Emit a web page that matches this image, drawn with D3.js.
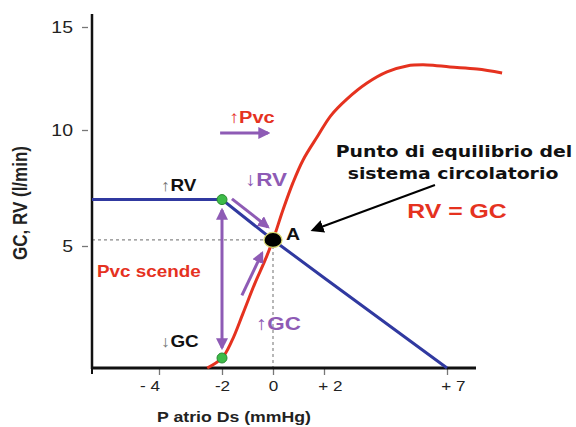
<!DOCTYPE html>
<html>
<head>
<meta charset="utf-8">
<script src="https://cdn.jsdelivr.net/npm/d3@7"></script>
<style>
  body { margin: 0; background: #fff; }
  svg { font-family: "Liberation Sans", Arial, sans-serif; }
</style>
</head>
<body>
<svg width="576" height="427"></svg>
<script>
// schematic axes: tick positions are not evenly spaced in the original
const xTicks = [-4, -2, 0, 2, 7];
const xTickLabels = ['- 4', '-2', '0', '+ 2', '+ 7'];
const yTicks = [5, 10, 15];

// ritorno venoso (RV)
const rvX = [-6.1, -2, 0, 2, 7];
const rvY = [7, 7, 5.26, 3.7, 0];

// gittata cardiaca (GC)
const gcX = [-2.47, -2, -1.61, -1.18, -0.71, -0.31, 0, 0.39, 0.78, 1.18, 1.76, 2.28, 2.93, 3.75, 4.56, 5.37, 6.19, 7.12, 8.24, 9.28];
const gcY = [0, 0.41, 1.12, 2.23, 3.47, 4.42, 5.26, 6.55, 7.72, 8.71, 9.75, 10.7, 11.5, 12.28, 12.82, 13.11, 13.16, 13.06, 12.96, 12.77];

const greenPts = [[-2, 7], [-2, 0.41]];
const eqPt = [0, 5.26];

// the original picture is stretched sideways
const SX = 1.18;

document.addEventListener('DOMContentLoaded', function() {
  const svg = d3.select('svg');

  const x = d3.scaleLinear()
    .domain([-6.1, -4, -2, 0, 2, 7, 8.2])
    .range([92, 159, 222, 273, 324, 447, 476]);
  const y = d3.scaleLinear()
    .domain([0, 5, 10, 15, 15.63])
    .range([368, 246, 130, 27, 14]);

  const purple = '#8e5bb5';
  const red = '#e5321f';
  const bold = '"DejaVu Sans", Verdana, sans-serif';

  const defs = svg.append('defs');
  const marker = (id, color, size) => {
    defs.append('marker')
      .attr('id', id)
      .attr('viewBox', '0 0 10 10')
      .attr('refX', 8).attr('refY', 5)
      .attr('markerWidth', size).attr('markerHeight', size)
      .attr('markerUnits', 'userSpaceOnUse')
      .attr('orient', 'auto-start-reverse')
      .append('path')
      .attr('d', 'M0,0 L10,5 L0,10 Z')
      .attr('fill', color);
  };
  marker('ap', purple, 12);
  marker('ak', '#000', 13);

  // dotted guides to the equilibrium point
  svg.append('line')
    .attr('x1', x(-6.1)).attr('x2', x(eqPt[0]))
    .attr('y1', y(eqPt[1])).attr('y2', y(eqPt[1]))
    .attr('stroke', '#888').attr('stroke-width', 1.2)
    .attr('stroke-dasharray', '3,3');
  svg.append('line')
    .attr('x1', x(eqPt[0])).attr('x2', x(eqPt[0]))
    .attr('y1', y(eqPt[1])).attr('y2', y(0))
    .attr('stroke', '#888').attr('stroke-width', 1.2)
    .attr('stroke-dasharray', '3,3');

  // axes
  const yAxis = d3.axisLeft(y).tickValues(yTicks).tickSize(6);
  const ya = svg.append('g')
    .attr('transform', 'translate(' + (x(-6.1) - 4) + ',0)')
    .call(yAxis);
  ya.select('.domain').remove();
  ya.selectAll('line').attr('stroke', '#777').attr('stroke-width', 1.3);
  ya.selectAll('text')
    .attr('x', -15 / SX)
    .attr('transform', 'scale(' + SX + ',1)')
    .attr('font-size', 16.5).attr('fill', '#222')
    .attr('font-family', '"Liberation Sans", Arial, sans-serif');

  const xAxis = d3.axisBottom(x).tickValues(xTicks)
    .tickFormat((d, i) => xTickLabels[i]).tickSize(7).tickPadding(6);
  const xa = svg.append('g')
    .attr('transform', 'translate(0,' + y(0) + ')')
    .call(xAxis);
  xa.select('.domain').remove();
  xa.selectAll('line').attr('stroke', '#777').attr('stroke-width', 1.3);
  // signed labels sit with the digit past the tick, as in the original
  xa.selectAll('text')
    .attr('transform', 'scale(' + SX + ',1)')
    .attr('dx', (d, i) => xTickLabels[i].startsWith('+ ') ? 5 : (xTickLabels[i].startsWith('- ') ? -8 : 0))
    .attr('font-size', 14.5).attr('fill', '#222')
    .attr('font-family', '"Liberation Sans", Arial, sans-serif');

  svg.append('line')
    .attr('x1', x(-6.1)).attr('x2', x(-6.1))
    .attr('y1', y(15.63)).attr('y2', y(0) + 1)
    .attr('stroke', '#111').attr('stroke-width', 2.5);
  svg.append('line')
    .attr('x1', x(-6.1)).attr('x2', x(8.2))
    .attr('y1', y(0)).attr('y2', y(0))
    .attr('stroke', '#111').attr('stroke-width', 3);
  svg.append('line')
    .attr('x1', x(-6.1)).attr('x2', x(-6.1))
    .attr('y1', y(0)).attr('y2', y(0) + 6)
    .attr('stroke', '#111').attr('stroke-width', 2);

  // curves
  const line = d3.line().x(d => x(d[0])).y(d => y(d[1]));
  svg.append('path')
    .datum(rvX.map((v, i) => [v, rvY[i]]))
    .attr('d', line)
    .attr('fill', 'none').attr('stroke', '#3039a0').attr('stroke-width', 3);
  svg.append('path')
    .datum(gcX.map((v, i) => [v, gcY[i]]))
    .attr('d', line.curve(d3.curveCatmullRom.alpha(0.5)))
    .attr('fill', 'none').attr('stroke', red).attr('stroke-width', 3);

  // purple arrows
  const arrows = [
    [[-2, 6.55], [-2, 0.83], true],
    [[-2.06, 9.87], [-0.2, 9.87], false],
    [[-1.61, 7.03], [-0.2, 5.82], false],
    [[-1.22, 2.98], [-0.43, 4.71], false]
  ];
  arrows.forEach(a => {
    svg.append('line')
      .attr('x1', x(a[0][0])).attr('y1', y(a[0][1]))
      .attr('x2', x(a[1][0])).attr('y2', y(a[1][1]))
      .attr('stroke', purple).attr('stroke-width', 3)
      .attr('marker-end', 'url(#ap)')
      .attr('marker-start', a[2] ? 'url(#ap)' : null);
  });

  // black arrow to A
  svg.append('line')
    .attr('x1', x(6.51)).attr('y1', y(7.63))
    .attr('x2', x(1.57)).attr('y2', y(5.69))
    .attr('stroke', '#000').attr('stroke-width', 2)
    .attr('marker-end', 'url(#ak)');

  // points
  svg.selectAll('.gp')
    .data(greenPts)
    .enter().append('circle')
    .attr('class', 'gp')
    .attr('cx', d => x(d[0])).attr('cy', d => y(d[1]))
    .attr('r', 5)
    .attr('fill', '#3dbb48').attr('stroke', '#2a8a32').attr('stroke-width', 1);
  svg.append('ellipse')
    .attr('cx', x(eqPt[0])).attr('cy', y(eqPt[1]))
    .attr('rx', 9).attr('ry', 7.5)
    .attr('fill', '#000').attr('stroke', '#d8d870').attr('stroke-width', 1.2);

  // labels
  const txt = (s, px, py, opts) => {
    const t = svg.append('g')
      .attr('transform', 'translate(' + px + ',' + py + ') scale(' + SX + ',1)' + (opts.rotate ? ' rotate(' + opts.rotate + ')' : ''))
      .append('text')
      .attr('font-size', opts.size || 16)
      .attr('font-weight', 'bold')
      .attr('font-family', opts.family || null)
      .attr('fill', opts.color || '#111')
      .attr('text-anchor', opts.anchor || 'start');
    if (opts.arrow) {
      t.append('tspan').text(opts.arrow)
        .attr('font-weight', 'normal')
        .attr('fill', opts.arrowColor || opts.color || '#111');
    }
    t.append('tspan').text(s);
    return t;
  };

  txt('RV', 161, 191, { arrow: '↑', arrowColor: '#777', size: 16 });
  txt('GC', 161, 347, { arrow: '↓', arrowColor: '#777', size: 16 });
  txt('RV', 245, 186, { arrow: '↓', color: purple, size: 19 });
  txt('GC', 256, 330, { arrow: '↑', color: purple, size: 19 });
  txt('Pvc', 229, 123, { arrow: '↑', color: red, size: 17 });
  txt('Pvc scende', 97, 277, { color: red, size: 16 });
  txt('A', 286, 240, { size: 16.5 });
  txt('Punto di equilibrio del', 454, 157, { anchor: 'middle', size: 16, family: bold });
  txt('sistema circolatorio', 453, 179, { anchor: 'middle', size: 16, family: bold });
  txt('RV = GC', 457, 218, { anchor: 'middle', color: red, size: 21 });

  txt('P atrio Ds (mmHg)', 234, 422, { anchor: 'middle', size: 15, color: '#222' });
  txt('GC, RV (l/min)', 27, 203, { anchor: 'middle', size: 17, color: '#222', rotate: -90 });
});
</script>
</body>
</html>
